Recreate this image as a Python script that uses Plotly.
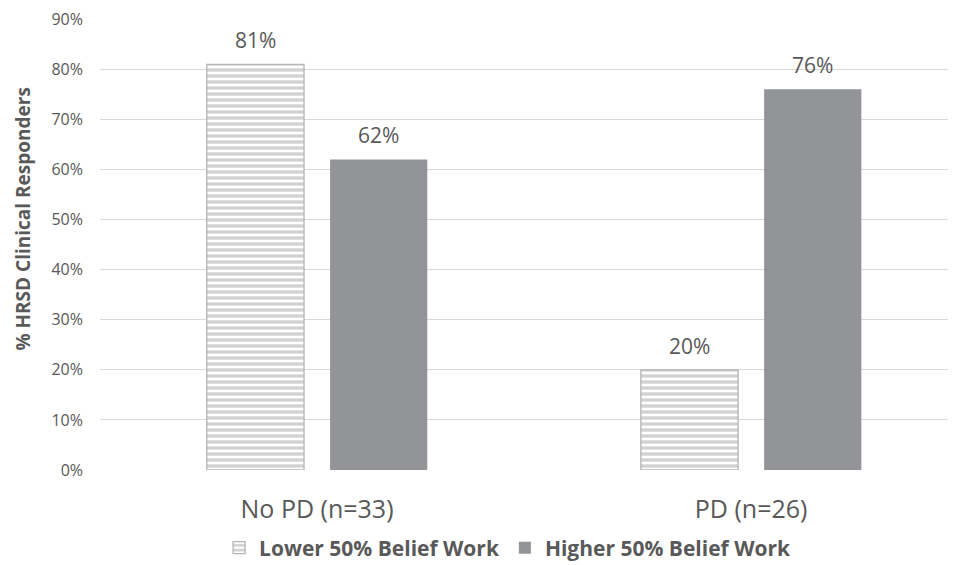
import plotly.graph_objects as go

categories = ["No PD (n=33)", "PD (n=26)"]
lower_vals = [0.81, 0.20]
higher_vals = [0.62, 0.76]
series_names = ["Lower 50% Belief Work", "Higher 50% Belief Work"]
y_ticks = [0, 0.1, 0.2, 0.3, 0.4, 0.5, 0.6, 0.7, 0.8, 0.9]
y_tick_labels = ["0%", "10%", "20%", "30%", "40%", "50%", "60%", "70%", "80%", "90%"]
y_title = "% HRSD Clinical Responders"

FONT = "Open Sans"
TXT = "#595959"
BW = 0.224
OFF_L = -0.254
OFF_H = 0.030

fig = go.Figure()
xs = list(range(len(categories)))
fig.add_trace(go.Bar(
    x=xs, y=lower_vals, name=series_names[0], width=BW, offset=OFF_L,
    marker=dict(color="white", line=dict(color="#B5B5B5", width=1.3),
                pattern=dict(shape="-", fgcolor="#A3A3A3", bgcolor="white",
                             size=6, solidity=0.55, fillmode="overlay")),
))
fig.add_trace(go.Bar(
    x=xs, y=higher_vals, name=series_names[1], width=BW, offset=OFF_H,
    marker=dict(color="#929497", line=dict(color="#929497", width=0)),
))

ann = []
for i, v in enumerate(lower_vals):
    ann.append(dict(x=i + OFF_L + BW / 2, y=v, text=f"{round(v*100)}%", showarrow=False,
                    yanchor="bottom", yshift=8, font=dict(family=FONT, size=21, color=TXT)))
for i, v in enumerate(higher_vals):
    ann.append(dict(x=i + OFF_H + BW / 2, y=v, text=f"{round(v*100)}%", showarrow=False,
                    yanchor="bottom", yshift=8, font=dict(family=FONT, size=21, color=TXT)))
ann.append(dict(xref="paper", yref="paper", x=-0.0905, y=0.5565, text=y_title,
                textangle=-90, showarrow=False, xanchor="center", yanchor="middle",
                font=dict(family=FONT, size=19, color=TXT, weight="bold")))

fig.update_layout(
    width=948, height=557,
    margin=dict(l=92, r=0, t=11, b=95),
    paper_bgcolor="white", plot_bgcolor="white",
    font=dict(family=FONT, color=TXT),
    barmode="overlay",
    annotations=ann,
    showlegend=True,
    legend=dict(orientation="h", xref="container", yref="container",
                x=0.527, xanchor="center", y=0.0305, yanchor="middle",
                font=dict(family=FONT, size=21, color=TXT, weight="bold"),
                itemwidth=30, traceorder="normal"),
    xaxis=dict(range=[-0.5, 1.472], tickmode="array", tickvals=xs, ticktext=categories,
               tickfont=dict(family=FONT, size=25, color=TXT), showgrid=False,
               showline=False, zeroline=False, ticklabelstandoff=22, automargin=False),
    yaxis=dict(range=[0, 0.9004], tickmode="array", tickvals=y_ticks, ticktext=y_tick_labels,
               tickfont=dict(family=FONT, size=16, color=TXT), ticklabeloverflow="allow",
               gridcolor="#D9D9D9", gridwidth=1.2, zeroline=False, showline=False,
               ticklabelstandoff=16, automargin=False),
)

fig.write_html("out.html")
